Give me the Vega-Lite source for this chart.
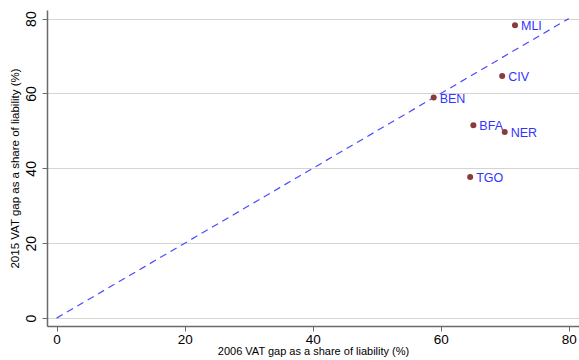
{
  "$schema": "https://vega.github.io/schema/vega-lite/v6.json",
  "autosize": "none",
  "width": 532,
  "height": 316,
  "padding": {"left": 47, "top": 10, "right": 0, "bottom": 34},
  "background": "white",
  "config": {
    "view": {"stroke": null},
    "font": "Liberation Sans",
    "axis": {
      "domainColor": "#6a6a6a",
      "domainWidth": 1.5,
      "tickColor": "#6a6a6a",
      "tickSize": 5,
      "labelColor": "black",
      "titleColor": "black",
      "labelFontSize": 14,
      "titleFontSize": 11.5,
      "titleFontWeight": "normal",
      "labelFont": "Liberation Sans",
      "titleFont": "Liberation Sans"
    }
  },
  "layer": [
    {
      "data": {"values": [{"x": 0, "y": 0}, {"x": 80, "y": 80}]},
      "mark": {"type": "line", "color": "#4a4aff", "strokeWidth": 1.2, "strokeDash": [7, 5]},
      "encoding": {
        "x": {
          "field": "x", "type": "quantitative",
          "scale": {"domain": [-1.5, 81.6], "nice": false, "zero": false},
          "axis": {
            "values": [0, 20, 40, 60, 80], "grid": false,
            "title": "2006 VAT gap as a share of liability (%)",
            "labelFontSize": 13.5, "titleFontSize": 11,
            "labelPadding": 1, "titlePadding": 0
          }
        },
        "y": {
          "field": "y", "type": "quantitative",
          "scale": {"domain": [-2.1, 82.3], "nice": false, "zero": false},
          "axis": {
            "values": [0, 20, 40, 60, 80], "grid": true,
            "gridColor": "#d4d4d4", "gridWidth": 1,
            "labelAngle": -90, "labelAlign": "center", "labelBaseline": "bottom",
            "labelPadding": 4,
            "title": "2015 VAT gap as a share of liability (%)",
            "titlePadding": 4
          }
        }
      }
    },
    {
      "data": {
        "values": [
          {"country": "MLI", "vat2006": 71.6, "vat2015": 78.2},
          {"country": "CIV", "vat2006": 69.6, "vat2015": 64.7},
          {"country": "BEN", "vat2006": 58.9, "vat2015": 58.9},
          {"country": "BFA", "vat2006": 65.1, "vat2015": 51.5},
          {"country": "NER", "vat2006": 70.0, "vat2015": 49.7},
          {"country": "TGO", "vat2006": 64.6, "vat2015": 37.7}
        ]
      },
      "layer": [
        {
          "mark": {"type": "circle", "color": "#8b3a3a", "opacity": 1, "size": 36},
          "encoding": {
            "x": {"field": "vat2006", "type": "quantitative"},
            "y": {"field": "vat2015", "type": "quantitative"}
          }
        },
        {
          "mark": {"type": "text", "color": "#3333ff", "fontSize": 12.5, "align": "left", "baseline": "middle", "dx": 6, "dy": 1},
          "encoding": {
            "x": {"field": "vat2006", "type": "quantitative"},
            "y": {"field": "vat2015", "type": "quantitative"},
            "text": {"field": "country"}
          }
        }
      ]
    }
  ]
}
